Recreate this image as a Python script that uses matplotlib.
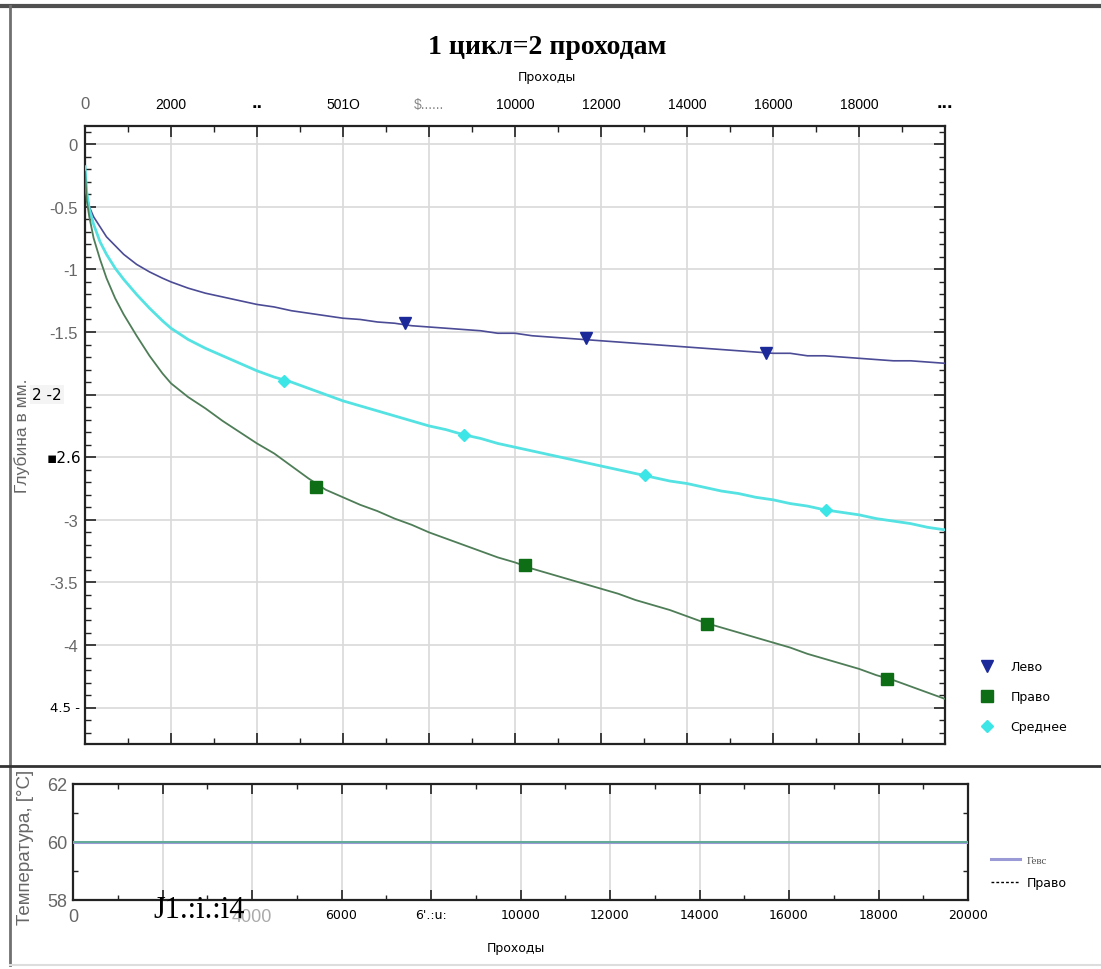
import numpy as np
import matplotlib.pyplot as plt
from matplotlib.lines import Line2D
from matplotlib.ticker import MultipleLocator

# -----------------------------
# Data: wear depth vs passes
# -----------------------------
PASSES = [0, 40, 100, 200, 350, 500, 700, 900, 1200, 1500, 1800, 2000,
          2400, 2800, 3200, 3600, 4000, 4400, 4800, 5200, 5600, 6000,
          6400, 6800, 7200, 7600, 8000, 8400, 8800, 9200, 9600, 10000,
          10400, 10800, 11200, 11600, 12000, 12400, 12800, 13200, 13600, 14000,
          14400, 14800, 15200, 15600, 16000, 16400, 16800, 17200, 17600, 18000,
          18400, 18800, 19200, 19600, 20000]

DEPTH_LEFT = [-0.20, -0.40, -0.50, -0.58, -0.66, -0.74, -0.81, -0.88, -0.96, -1.02, -1.07, -1.10,
              -1.15, -1.19, -1.22, -1.25, -1.28, -1.30, -1.33, -1.35, -1.37, -1.39,
              -1.40, -1.42, -1.43, -1.45, -1.46, -1.47, -1.48, -1.49, -1.51, -1.51,
              -1.53, -1.54, -1.55, -1.56, -1.57, -1.58, -1.59, -1.60, -1.61, -1.62,
              -1.63, -1.64, -1.65, -1.66, -1.67, -1.67, -1.69, -1.69, -1.70, -1.71,
              -1.72, -1.73, -1.73, -1.74, -1.75]

DEPTH_MID = [-0.18, -0.38, -0.52, -0.64, -0.78, -0.88, -0.99, -1.08, -1.20, -1.31, -1.41, -1.47,
             -1.56, -1.63, -1.69, -1.75, -1.81, -1.86, -1.90, -1.95, -2.00, -2.05,
             -2.09, -2.13, -2.17, -2.21, -2.25, -2.28, -2.32, -2.35, -2.39, -2.42,
             -2.45, -2.48, -2.51, -2.54, -2.57, -2.60, -2.63, -2.66, -2.69, -2.71,
             -2.74, -2.77, -2.79, -2.82, -2.84, -2.87, -2.89, -2.92, -2.94, -2.96,
             -2.99, -3.01, -3.03, -3.06, -3.08]

DEPTH_RIGHT = [-0.22, -0.45, -0.58, -0.75, -0.92, -1.07, -1.23, -1.36, -1.53, -1.69, -1.83, -1.91,
               -2.02, -2.11, -2.21, -2.30, -2.39, -2.47, -2.57, -2.67, -2.76, -2.82,
               -2.88, -2.93, -2.99, -3.04, -3.10, -3.15, -3.20, -3.25, -3.30, -3.34,
               -3.39, -3.43, -3.47, -3.51, -3.55, -3.59, -3.64, -3.68, -3.72, -3.77,
               -3.82, -3.86, -3.90, -3.94, -3.98, -4.02, -4.07, -4.11, -4.15, -4.19,
               -4.24, -4.28, -4.33, -4.38, -4.43]

# marker positions along each curve
MARK_LEFT_X = [7440, 11650, 15840]
MARK_LEFT_Y = [-1.43, -1.55, -1.67]
MARK_RIGHT_X = [5370, 10230, 14460, 18650]
MARK_RIGHT_Y = [-2.74, -3.36, -3.83, -4.27]
MARK_MID_X = [4630, 8810, 13020, 17230]
MARK_MID_Y = [-1.89, -2.32, -2.64, -2.92]

# temperature channel
TEMP_PASSES = [0, 20000]
TEMP_LEFT = [60, 60]
TEMP_RIGHT = [60, 60]

TOP_TICKS = list(range(0, 20001, 2000))
TOP_LABELS = ["0", "2000", "..", "501O", "$......", "10000", "12000",
              "14000", "16000", "18000", "..."]
DEPTH_TICKS = [0, -0.5, -1, -1.5, -2, -2.5, -3, -3.5, -4, -4.5]
DEPTH_LABELS = ["0", "-0.5", "-1", "-1.5", "", "", "-3", "-3.5", "-4", ""]
TEMP_TICKS = [58, 60, 62]
BOTTOM_LABELS = ["0", "", "4000", "6000", "6'.:u:", "10000", "12000",
                 "14000", "16000", "18000", "20000"]

SANS = ["Liberation Sans", "DejaVu Sans"]
GRAY = "#666666"

W, H = 1101, 970
fig = plt.figure(figsize=(W / 100, H / 100), dpi=100)
fig.patch.set_facecolor("white")


def fx(px):
    return px / W


def fy(py):
    return 1 - py / H


# -----------------------------
# Main depth plot
# -----------------------------
ax = fig.add_axes([fx(85), fy(745), fx(945) - fx(85), fy(127) - fy(745)])
ax.plot(PASSES, DEPTH_LEFT, color="#4b4b96", lw=1.2, zorder=3)
ax.plot(PASSES, DEPTH_MID, color="#55e2e2", lw=2.0, zorder=3)
ax.plot(PASSES, DEPTH_RIGHT, color="#4e7d57", lw=1.3, zorder=3)

h_left, = ax.plot(MARK_LEFT_X, MARK_LEFT_Y, ls="none", marker="v", ms=9,
                  color="#1c2a99", zorder=4)
h_right, = ax.plot(MARK_RIGHT_X, MARK_RIGHT_Y, ls="none", marker="s", ms=8,
                   color="#0d6e16", zorder=4)
h_mid, = ax.plot(MARK_MID_X, MARK_MID_Y, ls="none", marker="D", ms=6.5,
                 color="#3de6e6", zorder=4)

ax.set_xlim(0, 20000)
ax.set_ylim(-4.79, 0.145)
ax.set_xticks(TOP_TICKS)
ax.set_xticklabels(TOP_LABELS)
ax.xaxis.set_minor_locator(MultipleLocator(1000))
ax.set_yticks(DEPTH_TICKS)
ax.set_yticklabels(DEPTH_LABELS)
ax.yaxis.set_minor_locator(MultipleLocator(0.1))
ax.tick_params(which="both", direction="in", top=True, bottom=True,
               left=True, right=True, labeltop=True, labelbottom=False,
               color="#222222")
ax.tick_params(which="major", length=8, width=1.2)
ax.tick_params(which="minor", length=4, width=1.0)
ax.tick_params(axis="x", pad=11, labelsize=10)
ax.tick_params(axis="y", pad=5, labelsize=12, labelcolor=GRAY)
for lab in ax.get_xticklabels():
    lab.set_fontfamily(SANS)
for lab in ax.get_yticklabels():
    lab.set_fontfamily(SANS)

top_labels = ax.get_xticklabels()
top_labels[0].set_color(GRAY)
top_labels[0].set_fontsize(12)
top_labels[2].set_fontweight("bold")
top_labels[2].set_fontsize(14)
top_labels[4].set_color("#888888")
top_labels[10].set_fontweight("bold")
top_labels[10].set_fontsize(14)

ax.grid(True, which="major", color="#d9d9d9", lw=1.2)
ax.set_axisbelow(True)
for sp in ax.spines.values():
    sp.set_color("#222222")
    sp.set_linewidth(1.6)

ax.set_ylabel("Глубина в мм.", fontsize=12.5, color=GRAY, family=SANS)
ax.yaxis.set_label_coords(-0.064, 0.5)

ytr = ax.get_yaxis_transform()
ax.text(-0.027, -2, "2 -2", transform=ytr, ha="right", va="center",
        fontsize=11, color="black", zorder=5,
        bbox=dict(boxstyle="square,pad=0.15", fc="#f4f4f4", ec="none"))
ax.text(-0.004, -2.5, "▪2.6", transform=ytr, ha="right", va="center",
        fontsize=11, color="black", zorder=5)
ax.text(-0.006, -4.5, "4.5 -", transform=ytr, ha="right", va="center",
        fontsize=9.5, color="black", zorder=5)

fig.legend([h_left, h_right, h_mid], ["Лево", "Право", "Среднее"],
           loc="upper left", bbox_to_anchor=(fx(968), fy(650)),
           frameon=False, fontsize=9, handletextpad=1.3, labelspacing=1.35,
           handlelength=1.2)

# -----------------------------
# Temperature plot
# -----------------------------
ax2 = fig.add_axes([fx(73), fy(901), fx(968) - fx(73), fy(785) - fy(901)])
ax2.plot(TEMP_PASSES, TEMP_LEFT, color="#9a9ad6", lw=2.2, zorder=3)
ax2.plot(TEMP_PASSES, TEMP_RIGHT, color="#5fae93", lw=1.3, zorder=4)
ax2.set_xlim(0, 20000)
ax2.set_ylim(58, 62)
ax2.set_xticks(TOP_TICKS)
ax2.set_xticklabels(BOTTOM_LABELS)
ax2.xaxis.set_minor_locator(MultipleLocator(1000))
ax2.set_yticks(TEMP_TICKS)
ax2.yaxis.set_minor_locator(MultipleLocator(1))
ax2.tick_params(which="both", direction="in", top=True, bottom=True,
                left=True, right=True, color="#222222")
ax2.tick_params(which="major", length=7, width=1.2)
ax2.tick_params(which="minor", length=3.5, width=1.0)
ax2.tick_params(axis="x", pad=6, labelsize=9)
ax2.tick_params(axis="y", pad=4, labelsize=13, labelcolor=GRAY)
for lab in ax2.get_yticklabels():
    lab.set_fontfamily(SANS)
bottom_labels = ax2.get_xticklabels()
bottom_labels[0].set_color(GRAY)
bottom_labels[0].set_fontsize(13)
bottom_labels[0].set_fontfamily(SANS)
bottom_labels[2].set_color("#aaaaaa")
bottom_labels[2].set_fontsize(13)
bottom_labels[2].set_fontfamily(SANS)

ax2.grid(True, axis="x", which="major", color="#d9d9d9", lw=1.2)
ax2.set_axisbelow(True)
for sp in ax2.spines.values():
    sp.set_color("#222222")
    sp.set_linewidth(1.6)

ax2.set_ylabel("Температура, [°C]", fontsize=13.5, color=GRAY, family=SANS)
ax2.yaxis.set_label_coords(-0.044, 0.46)
ax2.set_xlabel("Проходы", fontsize=9)
ax2.xaxis.set_label_coords(0.495, -0.35)

ax2.text(2820, -0.08, "J1.:i.:i4", transform=ax2.get_xaxis_transform(),
         ha="center", va="center", fontsize=22, family="Liberation Serif",
         color="black", zorder=6)

temp_handles = [Line2D([], [], color="#9a9ad6", lw=2.2),
                Line2D([], [], color="black", lw=1.0, ls=(0, (2, 1.5)))]
leg2 = fig.legend(temp_handles, ["Гевс", "Право"], loc="upper left",
                  bbox_to_anchor=(fx(980), fy(844)), frameon=False,
                  fontsize=9, handlelength=2.3, handletextpad=0.5,
                  labelspacing=0.9)
leg2.get_texts()[0].set_fontfamily("Liberation Serif")
leg2.get_texts()[0].set_fontsize(8)
leg2.get_texts()[0].set_color("#555555")

# -----------------------------
# Headings and frame
# -----------------------------
fig.text(fx(547), fy(47), "1 цикл=2 проходам", ha="center", va="center",
         fontsize=20, fontweight="bold", family="Liberation Serif")
fig.text(fx(547), fy(78), "Проходы", ha="center", va="center", fontsize=9)

fig.add_artist(Line2D([0, 1], [fy(7), fy(7)], color="#505050", lw=3,
                      transform=fig.transFigure))
fig.add_artist(Line2D([fx(10), fx(10)], [fy(7), fy(966)], color="#707070",
                      lw=2, transform=fig.transFigure))
fig.add_artist(Line2D([0, 1], [fy(767), fy(767)], color="#333333", lw=2,
                      transform=fig.transFigure))
fig.add_artist(Line2D([fx(10), 1], [fy(966), fy(966)], color="#dddddd",
                      lw=1.5, transform=fig.transFigure))

fig.savefig("out.png", dpi=100, facecolor="white")
